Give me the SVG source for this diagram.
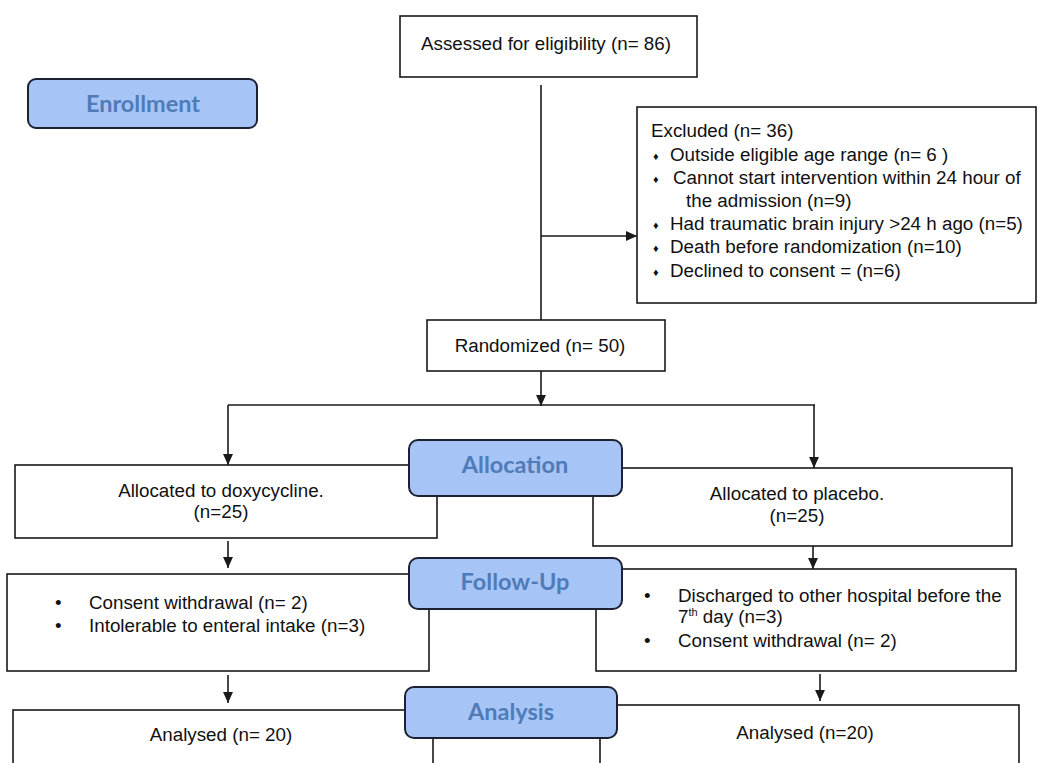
<svg xmlns="http://www.w3.org/2000/svg" width="1040" height="763" viewBox="0 0 1040 763">
<style>
.box{fill:#fff;stroke:#1a1a1a;stroke-width:1.6}
.lbl{fill:#a6c4f5;stroke:#1c2233;stroke-width:2}
.lt{font-family:Lato,"Open Sans",sans-serif;font-weight:bold;font-size:23.5px;fill:#4f7bb8;text-anchor:middle}
.t{font-family:"Liberation Sans",Arial,sans-serif;font-size:18.8px;fill:#111}
.c{text-anchor:middle}
.d{font-size:11px}
.ln{fill:none;stroke:#1a1a1a;stroke-width:1.6}
</style>
<defs>
<marker id="ah" viewBox="0 0 10 10" refX="10" refY="5" markerWidth="11" markerHeight="11" orient="auto" markerUnits="userSpaceOnUse"><path d="M0,0.5 L10,5 L0,9.5 z" fill="#1a1a1a"/></marker>
</defs>
<rect width="1040" height="763" fill="#fff"/>
<g id="connectors">
<line class="ln" x1="541" y1="85" x2="541" y2="320"/>
<line class="ln" x1="541" y1="236" x2="637" y2="236" marker-end="url(#ah)"/>
<line class="ln" x1="541" y1="371" x2="541" y2="406" marker-end="url(#ah)"/>
<polyline class="ln" points="228,405 815,405"/>
<line class="ln" x1="228" y1="405" x2="228" y2="465" marker-end="url(#ah)"/>
<line class="ln" x1="814" y1="405" x2="814" y2="468" marker-end="url(#ah)"/>
<line class="ln" x1="228" y1="541" x2="228" y2="568" marker-end="url(#ah)"/>
<line class="ln" x1="813" y1="546" x2="813" y2="569" marker-end="url(#ah)"/>
<line class="ln" x1="228" y1="675" x2="228" y2="703" marker-end="url(#ah)"/>
<line class="ln" x1="820" y1="674" x2="820" y2="701" marker-end="url(#ah)"/>
</g>
<g id="enrollment"><rect class="lbl" x="28" y="79" width="229" height="49" rx="8"/><text class="lt" x="143" y="112">Enrollment</text></g>
<g id="assessed"><rect class="box" x="400" y="16" width="297" height="61"/><text class="t" x="421" y="50">Assessed for eligibility (n= 86)</text></g>
<g id="excluded"><rect class="box" x="637" y="107" width="399" height="196"/>
<text class="t" x="651" y="137">Excluded (n= 36)</text>
<text class="t d" x="653" y="160">♦</text><text class="t d" x="653" y="183">♦</text><text class="t d" x="653" y="229">♦</text><text class="t d" x="653" y="252">♦</text><text class="t d" x="653" y="276">♦</text>
<text class="t" x="670" y="161">Outside eligible age range (n= 6 )</text>
<text class="t" x="673" y="184">Cannot start intervention within 24 hour of</text>
<text class="t" x="686" y="207">the admission (n=9)</text>
<text class="t" x="670" y="230">Had traumatic brain injury &gt;24 h ago (n=5)</text>
<text class="t" x="670" y="253">Death before randomization (n=10)</text>
<text class="t" x="670" y="277">Declined to consent = (n=6)</text>
</g>
<g id="randomized"><rect class="box" x="427" y="320" width="238" height="51"/><text class="t c" x="540" y="352">Randomized (n= 50)</text></g>
<g id="alloc-doxy"><rect class="box" x="15" y="465" width="422" height="73"/><text class="t c" x="221" y="497">Allocated to doxycycline.</text><text class="t c" x="221" y="518">(n=25)</text></g>
<g id="alloc-placebo"><rect class="box" x="593" y="468" width="419" height="78"/><text class="t c" x="797" y="500">Allocated to placebo.</text><text class="t c" x="797" y="522">(n=25)</text></g>
<g id="allocation"><rect class="lbl" x="409" y="440" width="213" height="56" rx="9"/><text class="lt" x="515" y="473">Allocation</text></g>
<g id="follow-doxy"><rect class="box" x="7" y="574" width="422" height="97"/>
<text class="t" x="55" y="609">•</text><text class="t" x="89" y="609">Consent withdrawal (n= 2)</text>
<text class="t" x="55" y="632">•</text><text class="t" x="89" y="632">Intolerable to enteral intake (n=3)</text></g>
<g id="follow-placebo"><rect class="box" x="596" y="569" width="420" height="102"/>
<text class="t" x="644" y="602">•</text><text class="t" x="678" y="602">Discharged to other hospital before the</text>
<text class="t" x="678" y="623">7<tspan font-size="11" dy="-7">th</tspan><tspan dy="7"> day (n=3)</tspan></text>
<text class="t" x="644" y="647">•</text><text class="t" x="678" y="647">Consent withdrawal (n= 2)</text></g>
<g id="followup"><rect class="lbl" x="409" y="558" width="213" height="51" rx="9"/><text class="lt" x="515" y="590">Follow-Up</text></g>
<g id="analysed-doxy"><rect class="box" x="13" y="710" width="420" height="70"/><text class="t c" x="221" y="741">Analysed (n= 20)</text></g>
<g id="analysed-placebo"><rect class="box" x="600" y="705" width="419" height="75"/><text class="t c" x="805" y="739">Analysed (n=20)</text></g>
<g id="analysis"><rect class="lbl" x="405" y="687" width="212" height="51" rx="9"/><text class="lt" x="511" y="720">Analysis</text></g>
</svg>
